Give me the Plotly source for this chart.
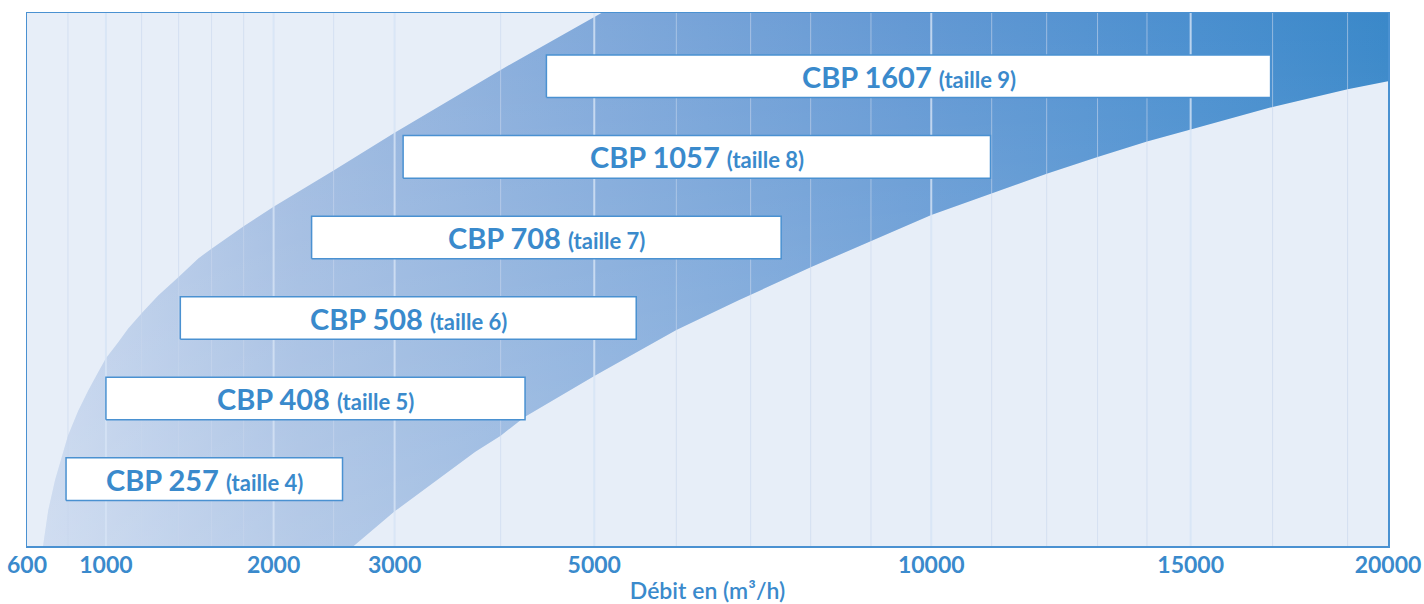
import numpy as np
import plotly.graph_objects as go

# ---------------- data ----------------
TICK_FLOWS = [600, 1000, 2000, 3000, 5000, 10000, 15000, 20000]
TICK_LABELS = ["600", "1000", "2000", "3000", "5000", "10000", "15000", "20000"]
MINOR_FLOWS = [800, 1200, 1400, 1600, 1800, 2500, 4000, 6000, 7000, 8000, 9000,
               11000, 12000, 13000, 14000, 17000, 19000]

MODELS = ["CBP 257", "CBP 408", "CBP 508", "CBP 708", "CBP 1057", "CBP 1607"]
TAILLES = [4, 5, 6, 7, 8, 9]
FLOW_MIN = [790, 1000, 1410, 2310, 3075, 4475]
FLOW_MAX = [2570, 4250, 5500, 7500, 10980, 16950]

# envelope of the operating zone (flow, taille)
UPPER_FLOW = [675, 700, 734, 767, 800, 852, 904, 958, 1000, 1067, 1123, 1205, 1288,
              1400, 1518, 1600, 1800, 2000, 2500, 3000, 3748, 4000, 5090]
UPPER_TAILLE = [3.17, 3.61, 3.99, 4.27, 4.54, 4.85, 5.10, 5.33, 5.50, 5.70, 5.87, 6.07,
                6.28, 6.51, 6.74, 6.86, 7.14, 7.38, 7.83, 8.30, 8.90, 9.08, 9.79]
LOWER_FLOW = [2659, 3000, 3748, 4000, 4245, 5000, 6000, 6833, 7000, 8000, 10000, 11000,
              12000, 13000, 14000, 15000, 17000, 19000, 20000]
LOWER_TAILLE = [3.17, 3.60, 4.34, 4.54, 4.77, 5.28, 5.85, 6.22, 6.29, 6.63, 7.28, 7.55,
                7.79, 8.00, 8.19, 8.34, 8.62, 8.84, 8.94]

# ---------------- custom (hand-drawn) flow axis scale ----------------
SCALE_FLOWS = sorted(TICK_FLOWS + MINOR_FLOWS)
SCALE_POS = [0, 0.0301, 0.0580, 0.0842, 0.1114, 0.1356, 0.1592, 0.1812, 0.2253, 0.2701,
             0.3480, 0.4168, 0.4771, 0.5317, 0.5758, 0.6201, 0.6644, 0.7088, 0.7492,
             0.7866, 0.8229, 0.8550, 0.9152, 0.9703, 1.0]


def fx(v):
    return np.interp(np.sqrt(np.asarray(v, dtype=float)), np.sqrt(SCALE_FLOWS), SCALE_POS)


Y_RANGE = [3.17, 9.786]
BOX_HALF = 0.264

BLUE = "#3a8acc"
EDGE = "#4a91d1"
FONT = "Lato"

fig = go.Figure()

# operating band: lower boundary, then upper boundary filled down to it
low_x = [float(fx(UPPER_FLOW[0]))] + list(fx(LOWER_FLOW))
low_y = [Y_RANGE[0]] + LOWER_TAILLE
up_x = list(fx(UPPER_FLOW)) + [float(fx(TICK_FLOWS[-1]))]
up_y = UPPER_TAILLE + [Y_RANGE[1]]

fills = [
    dict(type="horizontal", colorscale=[
        [0.0, "#c1d2ec"], [0.19, "#9db9e0"], [0.42, "#7fa8da"],
        [0.64, "#6499d4"], [0.86, "#4a8fcf"], [1.0, "#3a88c9"]]),
    dict(type="vertical", start=Y_RANGE[0], stop=Y_RANGE[1], colorscale=[
        [0.0, "rgba(255,255,255,0.25)"], [1.0, "rgba(255,255,255,0)"]]),
]
for fg in fills:
    fig.add_trace(go.Scatter(x=low_x, y=low_y, mode="lines", line=dict(width=0),
                             hoverinfo="skip", showlegend=False))
    fig.add_trace(go.Scatter(x=up_x, y=up_y, mode="lines", fill="tonexty",
                             line=dict(width=0), fillgradient=fg,
                             hoverinfo="skip", showlegend=False))

# grid lines (drawn above the band)
def vlines(vals):
    xs, ys = [], []
    for v in vals:
        p = float(fx(v))
        xs += [p, p, None]
        ys += [Y_RANGE[0], Y_RANGE[1], None]
    return xs, ys

gx, gy = vlines(MINOR_FLOWS)
fig.add_trace(go.Scatter(x=gx, y=gy, mode="lines",
                         line=dict(color="rgba(200,215,236,0.6)", width=1),
                         hoverinfo="skip", showlegend=False))
gx, gy = vlines(TICK_FLOWS[1:-1])
fig.add_trace(go.Scatter(x=gx, y=gy, mode="lines",
                         line=dict(color="rgba(214,227,245,0.8)", width=2),
                         hoverinfo="skip", showlegend=False))

# model boxes
for name, t, a, b in zip(MODELS, TAILLES, FLOW_MIN, FLOW_MAX):
    xa, xb = float(fx(a)), float(fx(b))
    fig.add_trace(go.Scatter(
        x=[xa, xb, xb, xa, xa],
        y=[t - BOX_HALF, t - BOX_HALF, t + BOX_HALF, t + BOX_HALF, t - BOX_HALF],
        mode="lines", fill="toself", fillcolor="white",
        line=dict(color=EDGE, width=1.5), hoverinfo="skip", showlegend=False))
    fig.add_annotation(
        x=(xa + xb) / 2, y=t, xref="x", yref="y", showarrow=False,
        text=f"{name} <span style='font-size:22px'>(taille {t})</span>",
        font=dict(family=FONT, size=29, color=BLUE, weight="bold"),
        xanchor="center", yanchor="middle")

fig.update_layout(
    width=1424, height=604,
    margin=dict(l=27, r=36, t=13, b=58),
    paper_bgcolor="white", plot_bgcolor="#e7eef8",
    xaxis=dict(range=[0, 1], tickvals=list(fx(TICK_FLOWS)), ticktext=TICK_LABELS,
               showgrid=False, zeroline=False, ticks="", showline=True, mirror=True,
               linecolor=EDGE, linewidth=1.5, layer="above traces",
               tickfont=dict(family=FONT, size=23, color=BLUE, weight="bold"),
               ticklabelstandoff=-2, ticklabeloverflow="allow",
               title=dict(text="Débit en (m³/h)", standoff=12,
                          font=dict(family=FONT, size=23, color=BLUE, weight=600)),
               automargin=False, fixedrange=True),
    yaxis=dict(range=Y_RANGE, showgrid=False, zeroline=False, showticklabels=False,
               ticks="", showline=True, mirror=True, linecolor=EDGE, linewidth=1.5,
               layer="above traces", automargin=False, fixedrange=True),
)

# remove the browser's default 8 px page margin so the figure fills the window
fig.write_html("out.html",
               config={"displayModeBar": False, "staticPlot": True},
               post_script="document.body.style.margin='0';"
                           "document.body.style.overflow='hidden';")
